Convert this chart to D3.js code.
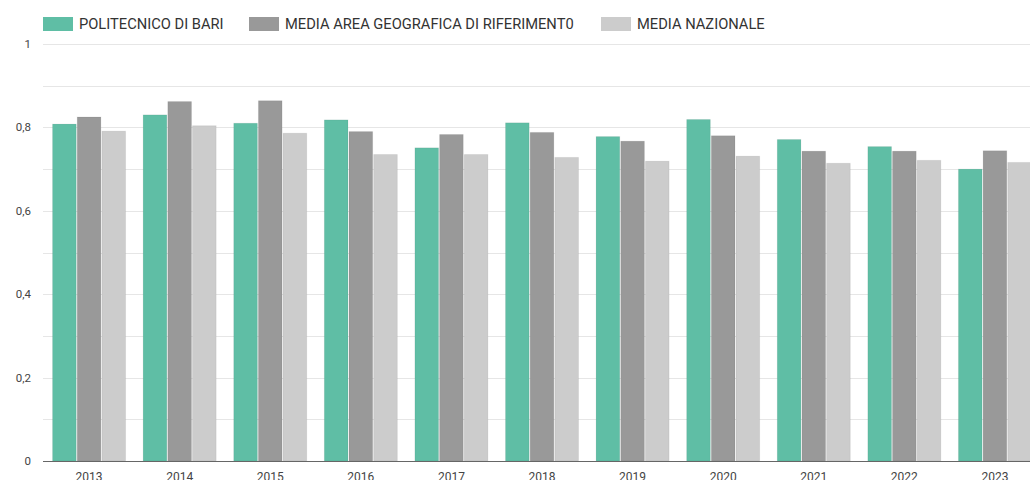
<!DOCTYPE html>
<html>
<head>
<meta charset="utf-8">
<script src="https://cdn.jsdelivr.net/npm/d3@7"></script>
<style>
  body { margin: 0; background: #fff; overflow: hidden; }
  svg { display: block; font-family: Roboto, sans-serif; }
</style>
</head>
<body>
<script>
// data
const years = ['2013', '2014', '2015', '2016', '2017', '2018', '2019', '2020', '2021', '2022', '2023'];
const seriesNames = ['POLITECNICO DI BARI', 'MEDIA AREA GEOGRAFICA DI RIFERIMENT0', 'MEDIA NAZIONALE'];
const politecnico = [0.808, 0.830, 0.810, 0.818, 0.751, 0.811, 0.778, 0.819, 0.771, 0.754, 0.700];
const mediaArea = [0.825, 0.862, 0.864, 0.790, 0.783, 0.788, 0.767, 0.780, 0.743, 0.743, 0.744];
const mediaNazionale = [0.791, 0.804, 0.786, 0.735, 0.735, 0.728, 0.719, 0.731, 0.714, 0.721, 0.716];
const yTicks = [0, 0.2, 0.4, 0.6, 0.8, 1];
const gridTicks = [0.1, 0.2, 0.3, 0.4, 0.5, 0.6, 0.7, 0.8, 0.9, 1];

const colors = ['#5fbea5', '#999999', '#cccccc'];
const series = [politecnico, mediaArea, mediaNazionale];

const width = 1030, height = 480;
const plotLeft = 43, plotTop = 44, plotBottom = 461;

const svg = d3.select('body').append('svg')
  .attr('width', width)
  .attr('height', height);

const x0 = d3.scaleBand()
  .domain(years)
  .range([plotLeft, 1041])
  .paddingInner(0.183)
  .paddingOuter(0.1);

const x1 = d3.scaleBand()
  .domain(d3.range(series.length))
  .range([0, x0.bandwidth()]);

const y = d3.scaleLinear()
  .domain([0, 1])
  .range([plotBottom, plotTop]);

const fmt = v => v === 0 ? '0' : v === 1 ? '1' : d3.format('.1f')(v).replace('.', ',');

// grid
svg.append('g')
  .selectAll('line')
  .data(gridTicks)
  .join('line')
  .attr('x1', plotLeft)
  .attr('x2', width)
  .attr('y1', d => Math.round(y(d)) + 0.5)
  .attr('y2', d => Math.round(y(d)) + 0.5)
  .attr('stroke', '#e6e6e6')
  .attr('stroke-width', 1);

// y labels
svg.append('g')
  .selectAll('text')
  .data(yTicks)
  .join('text')
  .attr('x', 31)
  .attr('y', d => y(d))
  .attr('dy', '0.35em')
  .attr('text-anchor', 'end')
  .attr('font-size', 11.5)
  .attr('fill', '#444')
  .text(fmt);

// bars
const group = svg.append('g')
  .selectAll('g')
  .data(years)
  .join('g')
  .attr('transform', d => `translate(${x0(d)},0)`);

group.selectAll('rect')
  .data((d, i) => series.map((s, k) => ({ k, v: s[i] })))
  .join('rect')
  .attr('x', d => x1(d.k) + 0.5)
  .attr('width', x1.bandwidth() - 1)
  .attr('y', d => y(d.v))
  .attr('height', d => plotBottom - y(d.v))
  .attr('fill', d => colors[d.k])
  .attr('stroke', 'rgba(0,0,0,0.06)')
  .attr('stroke-width', 1);

// baseline
svg.append('line')
  .attr('x1', plotLeft)
  .attr('x2', width)
  .attr('y1', plotBottom + 0.5)
  .attr('y2', plotBottom + 0.5)
  .attr('stroke', '#666')
  .attr('stroke-width', 1);

// x labels (cut by the bottom edge, as in the original)
svg.append('g')
  .selectAll('text')
  .data(years)
  .join('text')
  .attr('x', d => x0(d) + x0.bandwidth() / 2)
  .attr('y', 480.5)
  .attr('text-anchor', 'middle')
  .attr('font-size', 12)
  .attr('fill', '#444')
  .text(d => d);

// legend
const legendX = [43, 249, 601];
const legend = svg.append('g')
  .selectAll('g')
  .data(seriesNames)
  .join('g')
  .attr('transform', (d, i) => `translate(${legendX[i]},17)`);

legend.append('rect')
  .attr('width', 30)
  .attr('height', 14)
  .attr('fill', (d, i) => colors[i]);

legend.append('text')
  .attr('x', 36)
  .attr('y', 7)
  .attr('dy', '0.35em')
  .attr('font-size', 14.7)
  .attr('fill', '#333')
  .text(d => d);
</script>
</body>
</html>
